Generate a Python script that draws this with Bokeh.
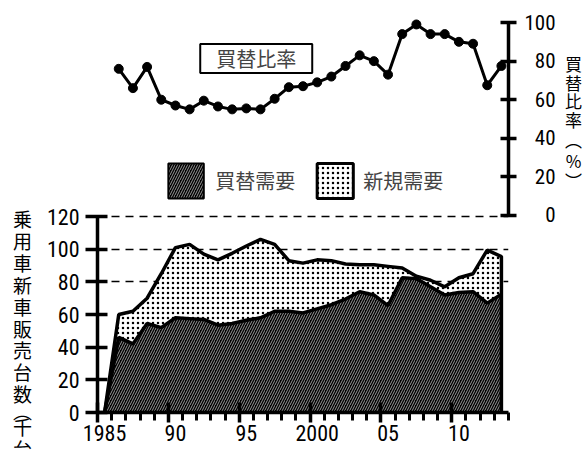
from bokeh.plotting import figure
from bokeh.layouts import row
from bokeh.models import (Range1d, LinearAxis, FixedTicker, Label, BoxAnnotation,
                          Grid, ColumnDataSource)
from bokeh.core.properties import value
from bokeh.embed import file_html
from bokeh.resources import INLINE

# 乗用車新車販売台数（千台）: 1985-2013
years = list(range(1985, 2014))
total_sales = [0, 60, 62, 70, 85, 101, 103, 97, 93.5, 97.5, 102, 106, 103, 93, 91.5,
               93.5, 93, 91, 90.5, 90.5, 89.5, 88.5, 83.5, 81, 77, 82.5, 85, 99.5, 95.5]
replacement_sales = [0, 46, 42, 54.5, 52, 58, 57.5, 57, 53.5, 54.5, 56.5, 58, 62, 62, 61,
                     63.5, 66, 69.5, 74, 72, 65.5, 82.5, 82, 77, 72, 73.5, 74, 67, 72.5]

# 買替比率（%）: 1986-2013
ratio_years = list(range(1986, 2014))
ratio = [76, 66, 77, 60, 57, 55, 59.5, 56.5, 55, 55.5, 55, 60.5, 66.5, 67, 69, 72,
         77.5, 83, 80, 73, 94, 99, 94, 94, 90, 89, 67.5, 77.5]

sales_ticks = [0, 20, 40, 60, 80, 100, 120]
ratio_ticks = [0, 20, 40, 60, 80, 100]
year_ticks = [1985, 1990, 1995, 2000, 2005, 2010]
year_labels = ["1985", "90", "95", "2000", "05", "10"]

left_title = "乗用車新車販売台数︵千台︶"
right_title = "買替比率︵%︶"

NUM_FONT = "Liberation Sans Narrow, Roboto Condensed, DejaVu Sans Condensed, Noto Sans CJK JP"
JP_FONT = "Noto Sans CJK JP"
VERTICAL_PARENS = "︵︶"

H = 450
LEFT_W = 40
RIGHT_W = 28
MAIN_W = 588 - LEFT_W - RIGHT_W

# each year's value is plotted at mid-year
xs = [y + 0.5 for y in years]
rxs = [y + 0.5 for y in ratio_years]

p = figure(width=MAIN_W, height=H, output_backend="svg", toolbar_location=None,
           x_range=Range1d(1985, 2014), y_range=Range1d(0, 245),
           x_axis_type=None, y_axis_type=None, frame_align=False,
           min_border_left=97 - LEFT_W, min_border_right=MAIN_W - (508 - LEFT_W),
           min_border_top=12, min_border_bottom=38)
p.outline_line_color = None
p.extra_y_ranges = {"ratio": Range1d(-102.1, 105.2)}

# dashed reference lines behind the areas
p.add_layout(Grid(dimension=1, ticker=FixedTicker(ticks=sales_ticks[4:]),
                  grid_line_color="black", grid_line_width=1.5,
                  grid_line_dash="8 6"))

DARK = dict(fill_color="black", hatch_pattern="/", hatch_color="#a8a8a8",
            hatch_scale=5, hatch_weight=0.9)
DOTS = dict(fill_color="white", hatch_pattern=".", hatch_color="black",
            hatch_scale=5, hatch_weight=0.5)

src = ColumnDataSource(dict(x=xs, total=total_sales, repl=replacement_sales))
p.varea(x="x", y1=0, y2="repl", source=src, **DARK)
p.varea(x="x", y1="repl", y2="total", source=src, **DOTS)
p.line(xs, replacement_sales, line_color="black", line_width=3.5)
p.line(xs + [xs[-1]], total_sales + [0], line_color="black", line_width=3.5)

p.line(rxs, ratio, y_range_name="ratio", line_color="black", line_width=3)
p.scatter(rxs, ratio, y_range_name="ratio", size=9, color="black")

def style_axis(ax):
    ax.axis_line_color = "black"
    ax.axis_line_width = 3.5
    ax.major_tick_line_color = "black"
    ax.major_tick_line_width = 3.5
    ax.minor_tick_line_color = "black"
    ax.minor_tick_line_width = 3
    ax.major_label_text_font = NUM_FONT
    ax.major_label_text_font_size = "22px"
    ax.major_label_text_color = "black"

yax = LinearAxis(ticker=FixedTicker(ticks=sales_ticks, minor_ticks=[]), bounds=(0, 120))
style_axis(yax)
yax.major_tick_in = 10
yax.major_tick_out = 12
yax.major_label_standoff = 6
p.add_layout(yax, "left")

# right-hand ratio labels padded with figure spaces so the digits line up on the right
rax = LinearAxis(y_range_name="ratio", ticker=FixedTicker(ticks=ratio_ticks, minor_ticks=[]),
                 bounds=(0, 100),
                 major_label_overrides={t: str(t).rjust(3, "\u2007") for t in ratio_ticks})
style_axis(rax)
rax.major_tick_in = 8
rax.major_tick_out = 8
rax.major_label_text_font_size = "21px"
rax.major_label_standoff = 8
p.add_layout(rax, "right")

# year ticks: long ticks every 5 years, short ones every year
xtick_ax = LinearAxis(ticker=FixedTicker(ticks=year_ticks, minor_ticks=list(range(1985, 2015))),
                      bounds=(1985, 2014))
style_axis(xtick_ax)
xtick_ax.major_tick_in = 10
xtick_ax.major_tick_out = 10
xtick_ax.minor_tick_in = 0
xtick_ax.minor_tick_out = 8
xtick_ax.major_label_text_color = None
xtick_ax.major_label_text_font_size = "1px"
xtick_ax.major_label_standoff = 0
p.add_layout(xtick_ax, "below")

# year labels sit at the middle of their year
label_pos = [t + 0.5 for t in year_ticks]
xlab_ax = LinearAxis(ticker=FixedTicker(ticks=label_pos, minor_ticks=[]),
                     major_label_overrides={pos: lab for pos, lab in zip(label_pos, year_labels)})
style_axis(xlab_ax)
xlab_ax.axis_line_color = None
xlab_ax.major_tick_line_color = None
xlab_ax.minor_tick_line_color = None
xlab_ax.major_tick_in = 0
xlab_ax.major_tick_out = 0
xlab_ax.major_label_standoff = 2
p.add_layout(xlab_ax, "below")

# boxed title for the ratio line
p.add_layout(Label(x=1996.2, y=216.8, text="買替比率", text_align="center",
                   text_baseline="middle", text_font=JP_FONT, text_font_size="20px",
                   border_line_color="black", border_line_width=2,
                   background_fill_color="white", padding=(16, 0)))

# legend swatches
p.add_layout(BoxAnnotation(left=1990.0, right=1992.5, bottom=131.0, top=152.5,
                           fill_alpha=1, line_color="black", line_width=2,
                           line_alpha=1, **DARK))
p.add_layout(Label(x=1993.3, y=141.8, text="買替需要", text_baseline="middle",
                   text_font=JP_FONT, text_font_size="20px"))
p.add_layout(BoxAnnotation(left=2000.5, right=2003.05, bottom=131.0, top=152.5,
                           fill_alpha=1, line_color="black", line_width=3,
                           line_alpha=1, **DOTS))
p.add_layout(Label(x=2003.75, y=141.8, text="新規需要", text_baseline="middle",
                   text_font=JP_FONT, text_font_size="20px"))


def stacked_positions(chars, top, step, paren_step):
    """Centre of each character when the text runs top-to-bottom."""
    ys = [top]
    for prev, cur in zip(chars[:-1], chars[1:]):
        narrow = prev in VERTICAL_PARENS or cur in VERTICAL_PARENS
        ys.append(ys[-1] + (paren_step if narrow else step))
    return ys


def title_column(width, chars, cx, ys, size):
    """Narrow strip holding an axis title written top-to-bottom, one upright character per line."""
    f = figure(width=width, height=H, output_backend="svg", toolbar_location=None,
               x_range=Range1d(0, width), y_range=Range1d(H, 0),
               x_axis_type=None, y_axis_type=None, frame_align=False, title=None,
               min_border=0, min_border_left=0, min_border_right=0,
               min_border_top=0, min_border_bottom=0)
    f.outline_line_color = None
    f.grid.visible = False
    f.text(x=[cx] * len(chars), y=ys, text=list(chars), text_align="center",
           text_baseline="middle", text_font=value(JP_FONT),
           text_font_size="%dpx" % size, text_color="black")
    return f


left_strip = title_column(LEFT_W, left_title, 22,
                          stacked_positions(left_title, 218, 21.9, 16.5), 19)
right_strip = title_column(RIGHT_W, right_title, 573 - (588 - RIGHT_W),
                           stacked_positions(right_title, 63, 18.5, 20.5), 17)

layout = row(left_strip, p, right_strip, spacing=0)
open("out.html", "w").write(file_html(layout, INLINE))
